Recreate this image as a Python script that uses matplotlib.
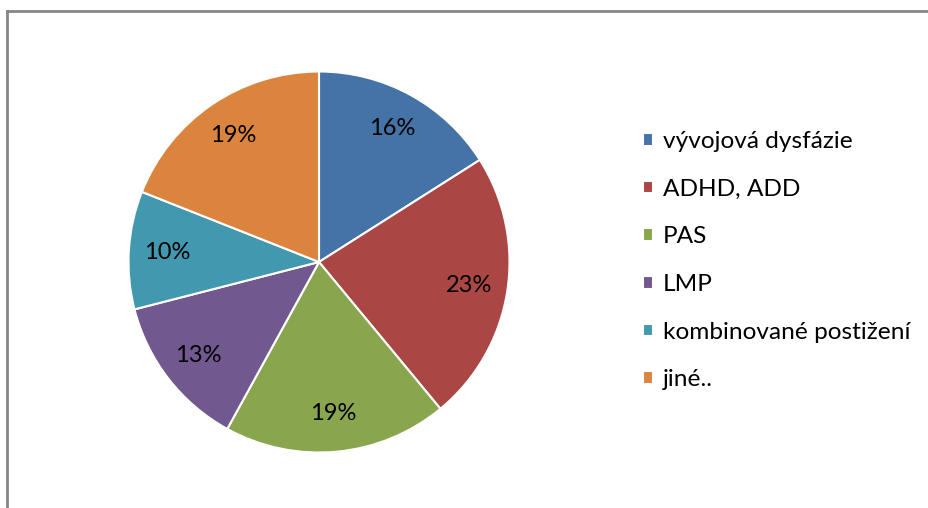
import matplotlib
matplotlib.use('Agg')
import matplotlib.pyplot as plt
from matplotlib.lines import Line2D

# data
kategorie = ['vývojová dysfázie', 'ADHD, ADD', 'PAS', 'LMP', 'kombinované postižení', 'jiné..']
podily = [16, 23, 19, 13, 10, 19]
barvy = ['#4572A7', '#AA4643', '#89A54E', '#71588F', '#4198AF', '#DB843D']

plt.rcParams['font.family'] = ['Lato', 'DejaVu Sans']

W, H = 929, 508
fig = plt.figure(figsize=(W / 100, H / 100), dpi=100)

# oramovani grafu (horni a leva hrana)
fig.add_artist(Line2D([7.5 / W, 1], [1 - 10.5 / H, 1 - 10.5 / H], color='#868686', lw=2))
fig.add_artist(Line2D([7.5 / W, 7.5 / W], [0, 1 - 10.5 / H], color='#868686', lw=2))

cx, cy, r = 319, 262, 190.5
ax = fig.add_axes([(cx - r) / W, (H - cy - r) / H, 2 * r / W, 2 * r / H])
wedges, texts, autotexts = ax.pie(
    podily, colors=barvy, startangle=90, counterclock=False,
    autopct='%1.0f%%', pctdistance=0.8, radius=1,
    wedgeprops=dict(edgecolor='white', linewidth=1.5),
    textprops=dict(fontsize=17, color='black'))
ax.set_xlim(-1, 1)
ax.set_ylim(-1, 1)
ax.set_aspect('equal')
ax.axis('off')

fig.legend(wedges, kategorie, loc='upper left',
           bbox_to_anchor=(643 / W, 1 - 131 / H), bbox_transform=fig.transFigure,
           frameon=False, fontsize=17.6, handlelength=0.42, handleheight=0.42,
           handletextpad=0.38, labelspacing=1.09, borderpad=0, borderaxespad=0)

plt.savefig('out.png', dpi=100)
